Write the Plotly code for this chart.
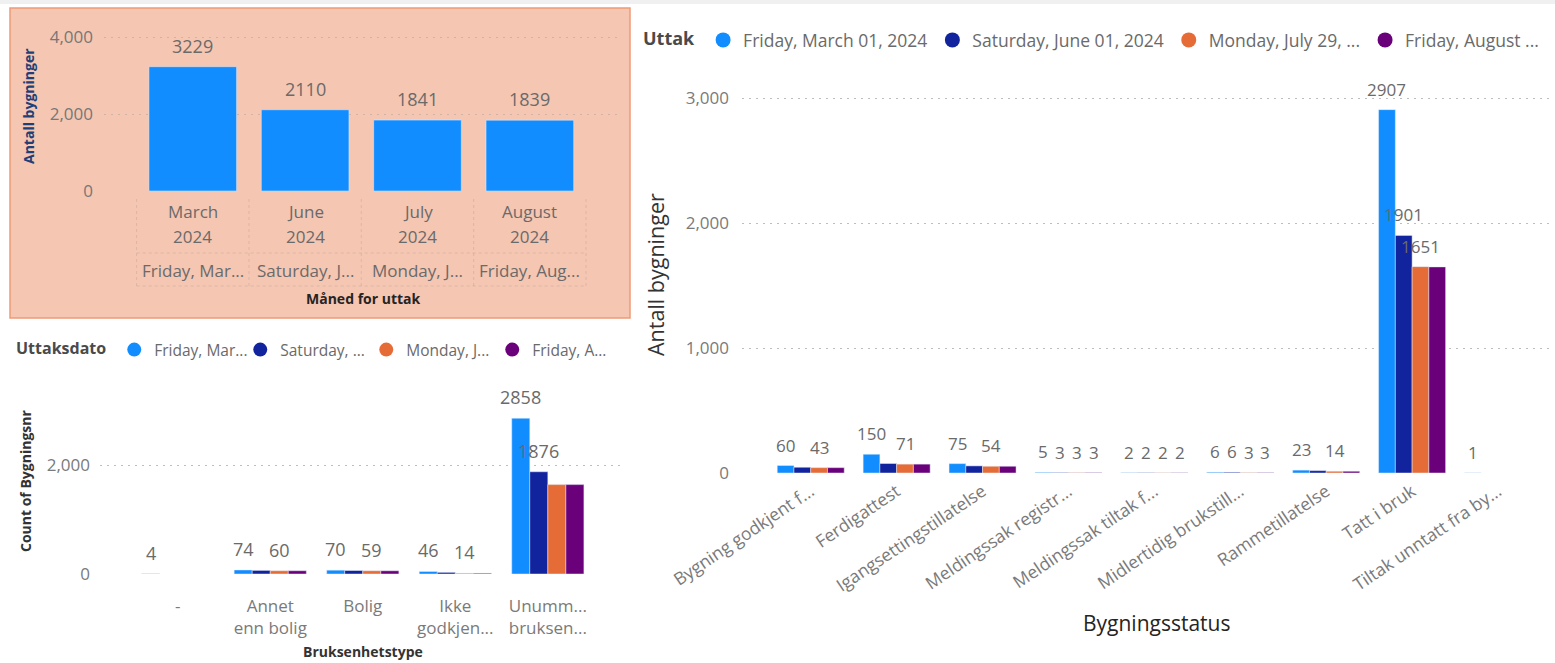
import plotly.graph_objects as go

# ---------------- data ----------------
month_names = ["March", "June", "July", "August"]
month_years = ["2024", "2024", "2024", "2024"]
month_dates = ["Friday, Mar...", "Saturday, J...", "Monday, J...", "Friday, Aug..."]
buildings_per_month = [3229, 2110, 1841, 1839]

series_names_long = ["Friday, March 01, 2024", "Saturday, June 01, 2024",
                     "Monday, July 29, ...", "Friday, August ..."]
series_names_short = ["Friday, Mar...", "Saturday, ...", "Monday, J...", "Friday, A..."]

unit_types = ["-", "Annet<br>enn bolig", "Bolig", "Ikke<br>godkjen...", "Unumm...<br>bruksen..."]
units_mar = [4, 74, 70, 46, 2858]
units_jun = [None, 66, 64, 30, 1876]
units_jul = [None, 60, 59, 14, 1640]
units_aug = [None, 60, 59, 14, 1640]
units_show_mar = [True, True, True, True, True]
units_show_jun = [False, False, False, False, True]
units_show_jul = [False, True, True, True, False]
units_show_aug = [False, False, False, False, False]

statuses = ["Bygning godkjent f...", "Ferdigattest", "Igangsettingstillatelse",
            "Meldingssak registr...", "Meldingssak tiltak f...", "Midlertidig brukstill...",
            "Rammetillatelse", "Tatt i bruk", "Tiltak unntatt fra by..."]
status_mar = [60, 150, 75, 5, 2, 6, 23, 2907, 1]
status_jun = [46, 76, 57, 3, 2, 6, 19, 1901, None]
status_jul = [43, 71, 54, 3, 2, 3, 14, 1651, None]
status_aug = [43, 71, 54, 3, 2, 3, 14, 1649, None]
status_show_mar = [True] * 9
status_show_jun = [False, False, False, True, True, True, False, True, False]
status_show_jul = [True, True, True, True, True, True, True, True, False]
status_show_aug = [False, False, False, True, True, True, False, False, False]

# ---------------- styling helpers ----------------
W, H = 1555, 663
def fx(p):
    return p / W
def fy(p):
    return 1 - p / H

FONT = "Open Sans"
COLORS = ["#118DFF", "#12239E", "#E66C37", "#6B007B"]
BARGAP = 0.22
TICK_COLOR = "#7A7A7A"
LABEL_COLOR = "#6A6A6A"
GRID = dict(showgrid=True, gridcolor="#BDBDBD", griddash="2px,5px", gridwidth=1.3,
            zeroline=False, showline=False, ticks="", automargin=False)

fig = go.Figure()

# ---------------- panel 1 ----------------
fig.add_trace(go.Bar(x=month_names, y=buildings_per_month, marker_color=COLORS[0],
                     xaxis="x", yaxis="y", showlegend=False, name="Antall bygninger"))

# ---------------- panel 2 ----------------
units_series = [units_mar, units_jun, units_jul, units_aug]
units_flags = [units_show_mar, units_show_jun, units_show_jul, units_show_aug]
for k, vals in enumerate(units_series):
    fig.add_trace(go.Bar(x=unit_types, y=vals, marker_color=COLORS[k], xaxis="x2", yaxis="y2",
                         showlegend=False, name=series_names_short[k]))
    fig.add_trace(go.Scatter(x=[None], y=[None], mode="markers", name=series_names_short[k],
                             marker=dict(size=14, color=COLORS[k], symbol="circle"),
                             xaxis="x2", yaxis="y2", legend="legend2", hoverinfo="skip"))

# ---------------- panel 3 ----------------
status_series = [status_mar, status_jun, status_jul, status_aug]
status_flags = [status_show_mar, status_show_jun, status_show_jul, status_show_aug]
for k, vals in enumerate(status_series):
    fig.add_trace(go.Bar(x=statuses, y=vals, marker_color=COLORS[k], xaxis="x3", yaxis="y3",
                         showlegend=False, name=series_names_long[k]))
    fig.add_trace(go.Scatter(x=[None], y=[None], mode="markers", name=series_names_long[k],
                             marker=dict(size=15, color=COLORS[k], symbol="circle"),
                             xaxis="x3", yaxis="y3", legend="legend", hoverinfo="skip"))

# ---------------- data labels ----------------
def add_labels(series, flags, xref, yref, size=17):
    n = len(series)
    w = (1 - BARGAP) / n
    for k, (vals, fl) in enumerate(zip(series, flags)):
        off = -(1 - BARGAP) / 2 + (k + 0.5) * w if n > 1 else 0
        for i, (v, f) in enumerate(zip(vals, fl)):
            if v is None or not f:
                continue
            fig.add_annotation(x=i + off, y=v, xref=xref, yref=yref, text=str(v),
                               showarrow=False, yanchor="bottom", yshift=7,
                               font=dict(family=FONT, size=size, color=LABEL_COLOR))

add_labels([buildings_per_month], [[True] * 4], "x", "y", size=18)
add_labels(units_series, units_flags, "x2", "y2", size=18)
add_labels(status_series, status_flags, "x3", "y3", size=17)

# panel 1 hierarchical category labels
for i in range(len(month_names)):
    for txt, ypix in ((month_names[i], 211), (month_years[i], 236), (month_dates[i], 270)):
        fig.add_annotation(x=i, xref="x", y=fy(ypix), yref="paper", text=txt, showarrow=False,
                           yanchor="middle", font=dict(family=FONT, size=17, color="#6A6A6A"))

# axis titles
def title_ann(text, x, y, size, color, bold=False, angle=0):
    fig.add_annotation(x=fx(x), y=fy(y), xref="paper", yref="paper",
                       text=f"<b>{text}</b>" if bold else text, showarrow=False,
                       textangle=angle, xanchor="center", yanchor="middle",
                       font=dict(family=FONT, size=size, color=color))

title_ann("Antall bygninger", 29, 106, 14, "#1F3F77", bold=True, angle=-90)
title_ann("Måned for uttak", 363, 298, 14, "#252423", bold=True)
title_ann("Count of Bygningsnr", 25, 481, 14, "#333333", bold=True, angle=-90)
title_ann("Bruksenhetstype", 363, 651, 14, "#333333", bold=True)
title_ann("Antall bygninger", 655, 275, 21.5, "#333333", angle=-90)
title_ann("Bygningsstatus", 1157, 623, 21, "#252423")

# ---------------- shapes ----------------
shapes = [
    dict(type="rect", xref="paper", yref="paper", x0=0, x1=1, y0=fy(4), y1=fy(0),
         fillcolor="#F0F0F0", line=dict(width=0), layer="below"),
    dict(type="rect", xref="paper", yref="paper", x0=fx(10), x1=fx(630), y0=fy(318), y1=fy(8),
         fillcolor="#F5C6B2", line=dict(color="#EE9A77", width=1.5), layer="below"),
]
sep = dict(color="rgba(110,110,110,0.18)", width=1, dash="dot")
for k in range(len(month_names) + 1):
    shapes.append(dict(type="line", xref="x", yref="paper", x0=k - 0.5, x1=k - 0.5,
                       y0=fy(286), y1=fy(196), line=sep))
for ypix in (253, 286):
    shapes.append(dict(type="line", xref="x", yref="paper", x0=-0.5, x1=len(month_names) - 0.5,
                       y0=fy(ypix), y1=fy(ypix), line=sep))

# ---------------- layout ----------------
fig.update_layout(
    width=W, height=H, autosize=False,
    margin=dict(l=0, r=0, t=0, b=0, pad=0, autoexpand=False),
    paper_bgcolor="white", plot_bgcolor="rgba(0,0,0,0)",
    barmode="group", bargap=BARGAP, bargroupgap=0,
    font=dict(family=FONT, color=TICK_COLOR),
    shapes=shapes,
    xaxis=dict(domain=[fx(104), fx(622)], range=[-0.79, 3.82], anchor="y", automargin=False,
               showticklabels=False, showgrid=False, zeroline=False, showline=False,
               categoryorder="array", categoryarray=month_names),
    yaxis=dict(domain=[fy(191), fy(30)], range=[0, 4182], anchor="x",
               tickvals=[0, 2000, 4000], tickformat=",", ticklabelstandoff=10,
               tickfont=dict(family=FONT, size=17, color="#777777"),
               gridcolor="rgba(150,150,150,0.40)",
               **{k: v for k, v in GRID.items() if k != "gridcolor"}),
    xaxis2=dict(domain=[fx(100), fx(620)], range=[-0.84, 4.78], anchor="y2", automargin=False,
                showgrid=False, zeroline=False, showline=False, ticks="",
                ticklabelstandoff=20, categoryorder="array", categoryarray=unit_types,
                tickfont=dict(family=FONT, size=17, color=TICK_COLOR)),
    yaxis2=dict(domain=[fy(574), fy(385)], range=[0, 3468], anchor="x2",
                tickvals=[0, 2000], tickformat=",", ticklabelstandoff=9,
                tickfont=dict(family=FONT, size=17, color=TICK_COLOR), **GRID),
    xaxis3=dict(domain=[fx(742), fx(1553)], range=[-0.8, 8.64], anchor="y3", automargin=False,
                showgrid=False, zeroline=False, showline=False, ticks="",
                tickangle=-34, ticklabelstandoff=4, categoryorder="array", categoryarray=statuses,
                tickfont=dict(family=FONT, size=17.5, color=TICK_COLOR)),
    yaxis3=dict(domain=[fy(473), fy(70)], range=[0, 3224], anchor="x3",
                tickvals=[0, 1000, 2000, 3000], tickformat=",", ticklabelstandoff=12,
                tickfont=dict(family=FONT, size=17, color=TICK_COLOR), **GRID),
    legend=dict(title=dict(text="<b>Uttak</b>", font=dict(family=FONT, size=18, color="#4A4A4A")),
                orientation="h", x=fx(641), y=fy(40), xanchor="left", yanchor="middle",
                font=dict(family=FONT, size=17.5, color="#6A6A6A"), bgcolor="rgba(0,0,0,0)",
                itemwidth=30, itemclick=False, itemdoubleclick=False),
    legend2=dict(title=dict(text="<b>Uttaksdato</b>", font=dict(family=FONT, size=16, color="#4A4A4A")),
                 orientation="h", x=fx(14), y=fy(350), xanchor="left", yanchor="middle",
                 font=dict(family=FONT, size=15.5, color="#6A6A6A"), bgcolor="rgba(0,0,0,0)",
                 entrywidth=81, entrywidthmode="pixels",
                 itemwidth=30, itemclick=False, itemdoubleclick=False),
)

fig.write_html("out.html", config={"displayModeBar": False},
               post_script="document.body.style.margin='0';document.body.style.overflow='hidden';")
